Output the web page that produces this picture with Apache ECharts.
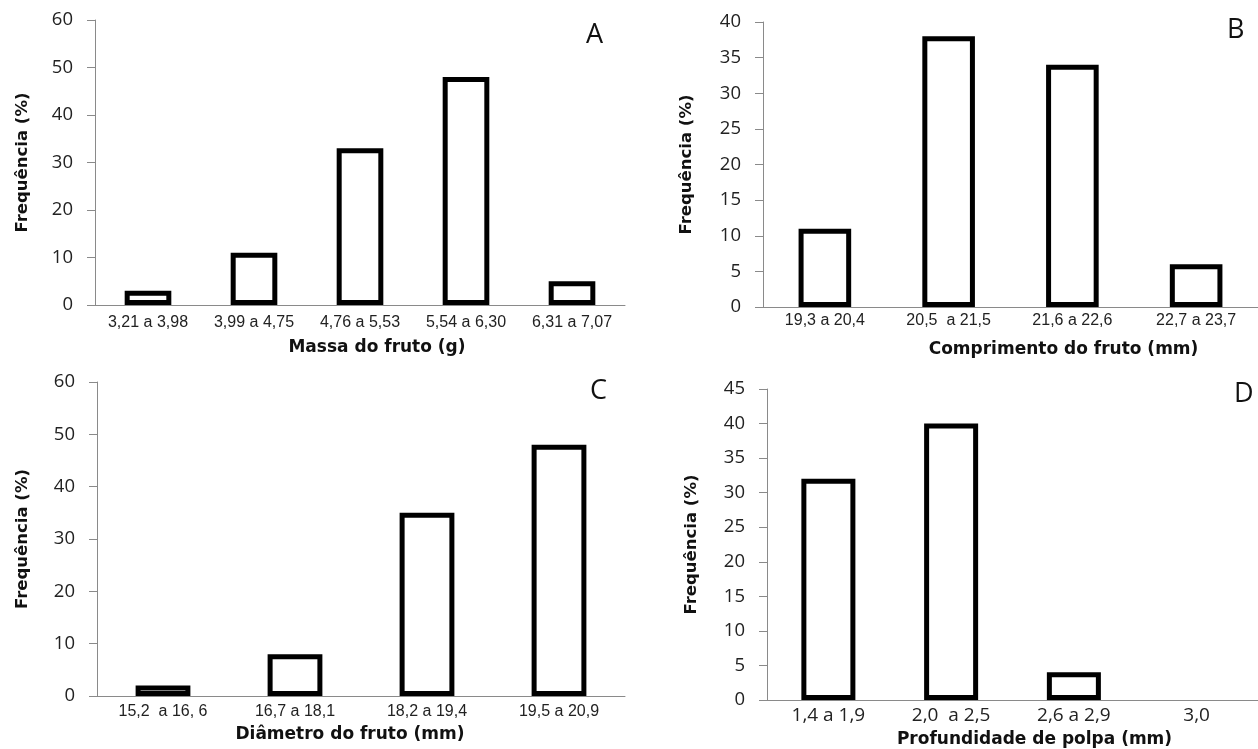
<!DOCTYPE html>
<html>
<head>
<meta charset="utf-8">
<script src="https://cdn.jsdelivr.net/npm/echarts@6/dist/echarts.min.js"></script>
<style>
  html, body { margin: 0; padding: 0; background: #fff; }
  #main { width: 1258px; height: 749px; }
</style>
</head>
<body>
<div id="main"></div>
<script>
// A - massa do fruto
const massaCats = ['3,21 a 3,98', '3,99 a 4,75', '4,76 a 5,53', '5,54 a 6,30', '6,31 a 7,07'];
const massaVals = [3, 11, 33, 48, 5];
// B - comprimento
const compCats = ['19,3 a 20,4', '20,5  a 21,5', '21,6 a 22,6', '22,7 a 23,7'];
const compVals = [11, 38, 34, 6];
// C - diametro
const diamCats = ['15,2  a 16, 6', '16,7 a 18,1', '18,2 a 19,4', '19,5 a 20,9'];
const diamVals = [2, 8, 35, 48];
// D - profundidade de polpa
const polpaCats = ['1,4 a 1,9', '2,0  a 2,5', '2,6 a 2,9', '3,0'];
const polpaVals = [32, 40, 4, 0];

const yMax = [60, 40, 60, 45];
const yStep = [10, 5, 10, 5];

const axisGray = '#8a8a8a';
const tickFont = 'Open Sans';
const catFont = 'Liberation Sans';
const boldFont = 'DejaVu Sans';

const chart = echarts.init(document.getElementById('main'), null, { renderer: 'canvas' });

// zero bars have no visible outline in the original
const toData = vals => vals.map(v => v === 0 ? { value: v, itemStyle: { borderWidth: 0 } } : v);

const panels = [
    { cats: massaCats, vals: massaVals, xName: 'Massa do fruto (g)', namePad: [0, 0, 0, 34], nameGap: 34, yGap: 64, labelMargin: 10, barW: '44%', catFont: catFont, catSize: 16 },
    { cats: compCats, vals: compVals, xName: 'Comprimento do fruto (mm)', namePad: [0, 0, 0, 106], nameGap: 34, yGap: 68, labelMargin: 6, barW: '42.5%', catFont: catFont, catSize: 16 },
    { cats: diamCats, vals: diamVals, xName: 'Diâmetro do fruto (mm)', namePad: [0, 22, 0, 0], nameGap: 30, yGap: 66, labelMargin: 8, barW: '41.5%', catFont: catFont, catSize: 16 },
    { cats: polpaCats, vals: polpaVals, xName: 'Profundidade de polpa (mm)', namePad: [0, 0, 0, 44], nameGap: 31, yGap: 67, labelMargin: 6, barW: '44%', catFont: tickFont, catSize: 19 },
];

const option = {
    animation: false,
    backgroundColor: '#fff',
    title: [
        { text: 'A', left: 586, top: 22 },
        { text: 'B', left: 1227, top: 17 },
        { text: 'C', left: 590, top: 378 },
        { text: 'D', left: 1234, top: 381 },
    ].map(t => Object.assign(t, {
        padding: 0,
        textStyle: { fontFamily: tickFont, fontSize: 27, fontWeight: 'normal', color: '#111' }
    })),
    grid: [
        { left: 95, top: 20, width: 530, height: 285 },
        { left: 763, top: 22, width: 495, height: 285 },
        { left: 97, top: 382, width: 528, height: 314 },
        { left: 767, top: 389, width: 491, height: 311 },
    ],
    xAxis: panels.map((p, i) => ({
        type: 'category',
        gridIndex: i,
        data: p.cats,
        name: p.xName,
        nameLocation: 'middle',
        nameGap: p.nameGap,
        nameTextStyle: { fontFamily: boldFont, fontWeight: 'bold', fontSize: 17, color: '#111', padding: p.namePad },
        axisLine: { lineStyle: { color: axisGray, width: 1 } },
        axisTick: { show: false },
        axisLabel: { interval: 0, margin: p.labelMargin, fontFamily: p.catFont, fontSize: p.catSize, color: '#222' },
        splitLine: { show: false },
    })),
    yAxis: panels.map((p, i) => ({
        type: 'value',
        gridIndex: i,
        min: 0,
        max: yMax[i],
        interval: yStep[i],
        name: 'Frequência (%)',
        nameLocation: 'middle',
        nameRotate: 90,
        nameGap: p.yGap,
        nameTextStyle: { fontFamily: boldFont, fontWeight: 'bold', fontSize: 16.5, color: '#111' },
        axisLine: { show: true, lineStyle: { color: axisGray, width: 1 } },
        axisTick: { show: true, length: 8, lineStyle: { color: axisGray } },
        axisLabel: { margin: 22, fontFamily: tickFont, fontSize: 18.5, color: '#222' },
        splitLine: { show: false },
    })),
    series: panels.map((p, i) => ({
        type: 'bar',
        xAxisIndex: i,
        yAxisIndex: i,
        data: toData(p.vals),
        barWidth: p.barW,
        itemStyle: { color: '#fff', borderColor: '#000', borderWidth: 5 },
        emphasis: { disabled: true },
    })),
};

chart.setOption(option);
</script>
</body>
</html>
